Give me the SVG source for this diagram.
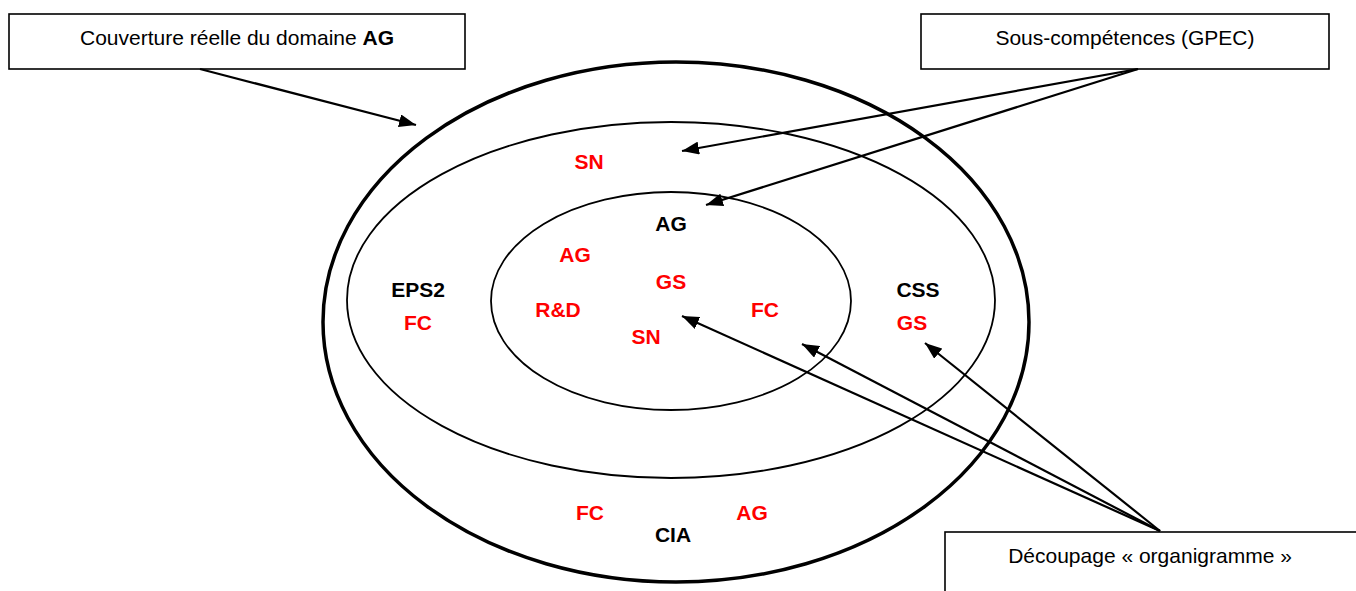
<svg xmlns="http://www.w3.org/2000/svg" width="1356" height="591" viewBox="0 0 1356 591">
<style>
.box{fill:#fff;stroke:#000;stroke-width:1.6}
.bt{font-family:"Liberation Sans",Arial,sans-serif;font-size:21px;fill:#000;text-anchor:middle}
.lb{font-family:"Liberation Sans",Arial,sans-serif;font-size:21px;font-weight:bold;text-anchor:middle}
.r{fill:#ff0000}
.k{fill:#000}
.ell{fill:none;stroke:#000;stroke-width:1.8}
.con{stroke:#000;stroke-width:2.2;fill:none;marker-end:url(#ah)}
</style>
<defs>
<marker id="ah" viewBox="0 0 10 10" refX="10" refY="5" markerWidth="17" markerHeight="13" markerUnits="userSpaceOnUse" orient="auto" preserveAspectRatio="none">
<path d="M0,0 L10,5 L0,10 z" fill="#000"/>
</marker>
</defs>
<rect width="1356" height="591" fill="#fff"/>
<g id="ellipses">
<ellipse id="outer" cx="676" cy="322" rx="353" ry="260" fill="none" stroke="#000" stroke-width="3.5"/>
<ellipse id="middle" class="ell" cx="671" cy="300" rx="324" ry="178"/>
<ellipse id="inner" class="ell" cx="671" cy="301" rx="180" ry="109"/>
</g>
<g id="box-couverture">
<rect class="box" x="9" y="14" width="456" height="55"/>
<text class="bt" x="237" y="45">Couverture réelle du domaine <tspan font-weight="bold">AG</tspan></text>
</g>
<g id="box-sous">
<rect class="box" x="921" y="14" width="408" height="55"/>
<text class="bt" x="1125" y="45">Sous-compétences (GPEC)</text>
</g>
<g id="box-decoupage">
<rect class="box" x="945" y="532" width="420" height="70"/>
<text class="bt" x="1150" y="563">Découpage « organigramme »</text>
</g>
<g id="labels">
<text class="lb r" x="589" y="169">SN</text>
<text class="lb k" x="671" y="231">AG</text>
<text class="lb r" x="575" y="262">AG</text>
<text class="lb r" x="671" y="289">GS</text>
<text class="lb r" x="558" y="317">R&amp;D</text>
<text class="lb r" x="646" y="344">SN</text>
<text class="lb r" x="765" y="317">FC</text>
<text class="lb k" x="418" y="297">EPS2</text>
<text class="lb r" x="418" y="330">FC</text>
<text class="lb k" x="918" y="297">CSS</text>
<text class="lb r" x="912" y="330">GS</text>
<text class="lb r" x="590" y="520">FC</text>
<text class="lb r" x="752" y="520">AG</text>
<text class="lb k" x="673" y="542">CIA</text>
</g>
<g id="connectors">
<line class="con" x1="200" y1="69" x2="416" y2="125"/>
<line class="con" x1="1138" y1="69" x2="682" y2="151"/>
<line class="con" x1="1138" y1="69" x2="706" y2="205"/>
<line class="con" x1="1160" y1="531" x2="682" y2="316"/>
<line class="con" x1="1160" y1="531" x2="802" y2="344"/>
<line class="con" x1="1160" y1="531" x2="925" y2="343"/>
</g>
</svg>
